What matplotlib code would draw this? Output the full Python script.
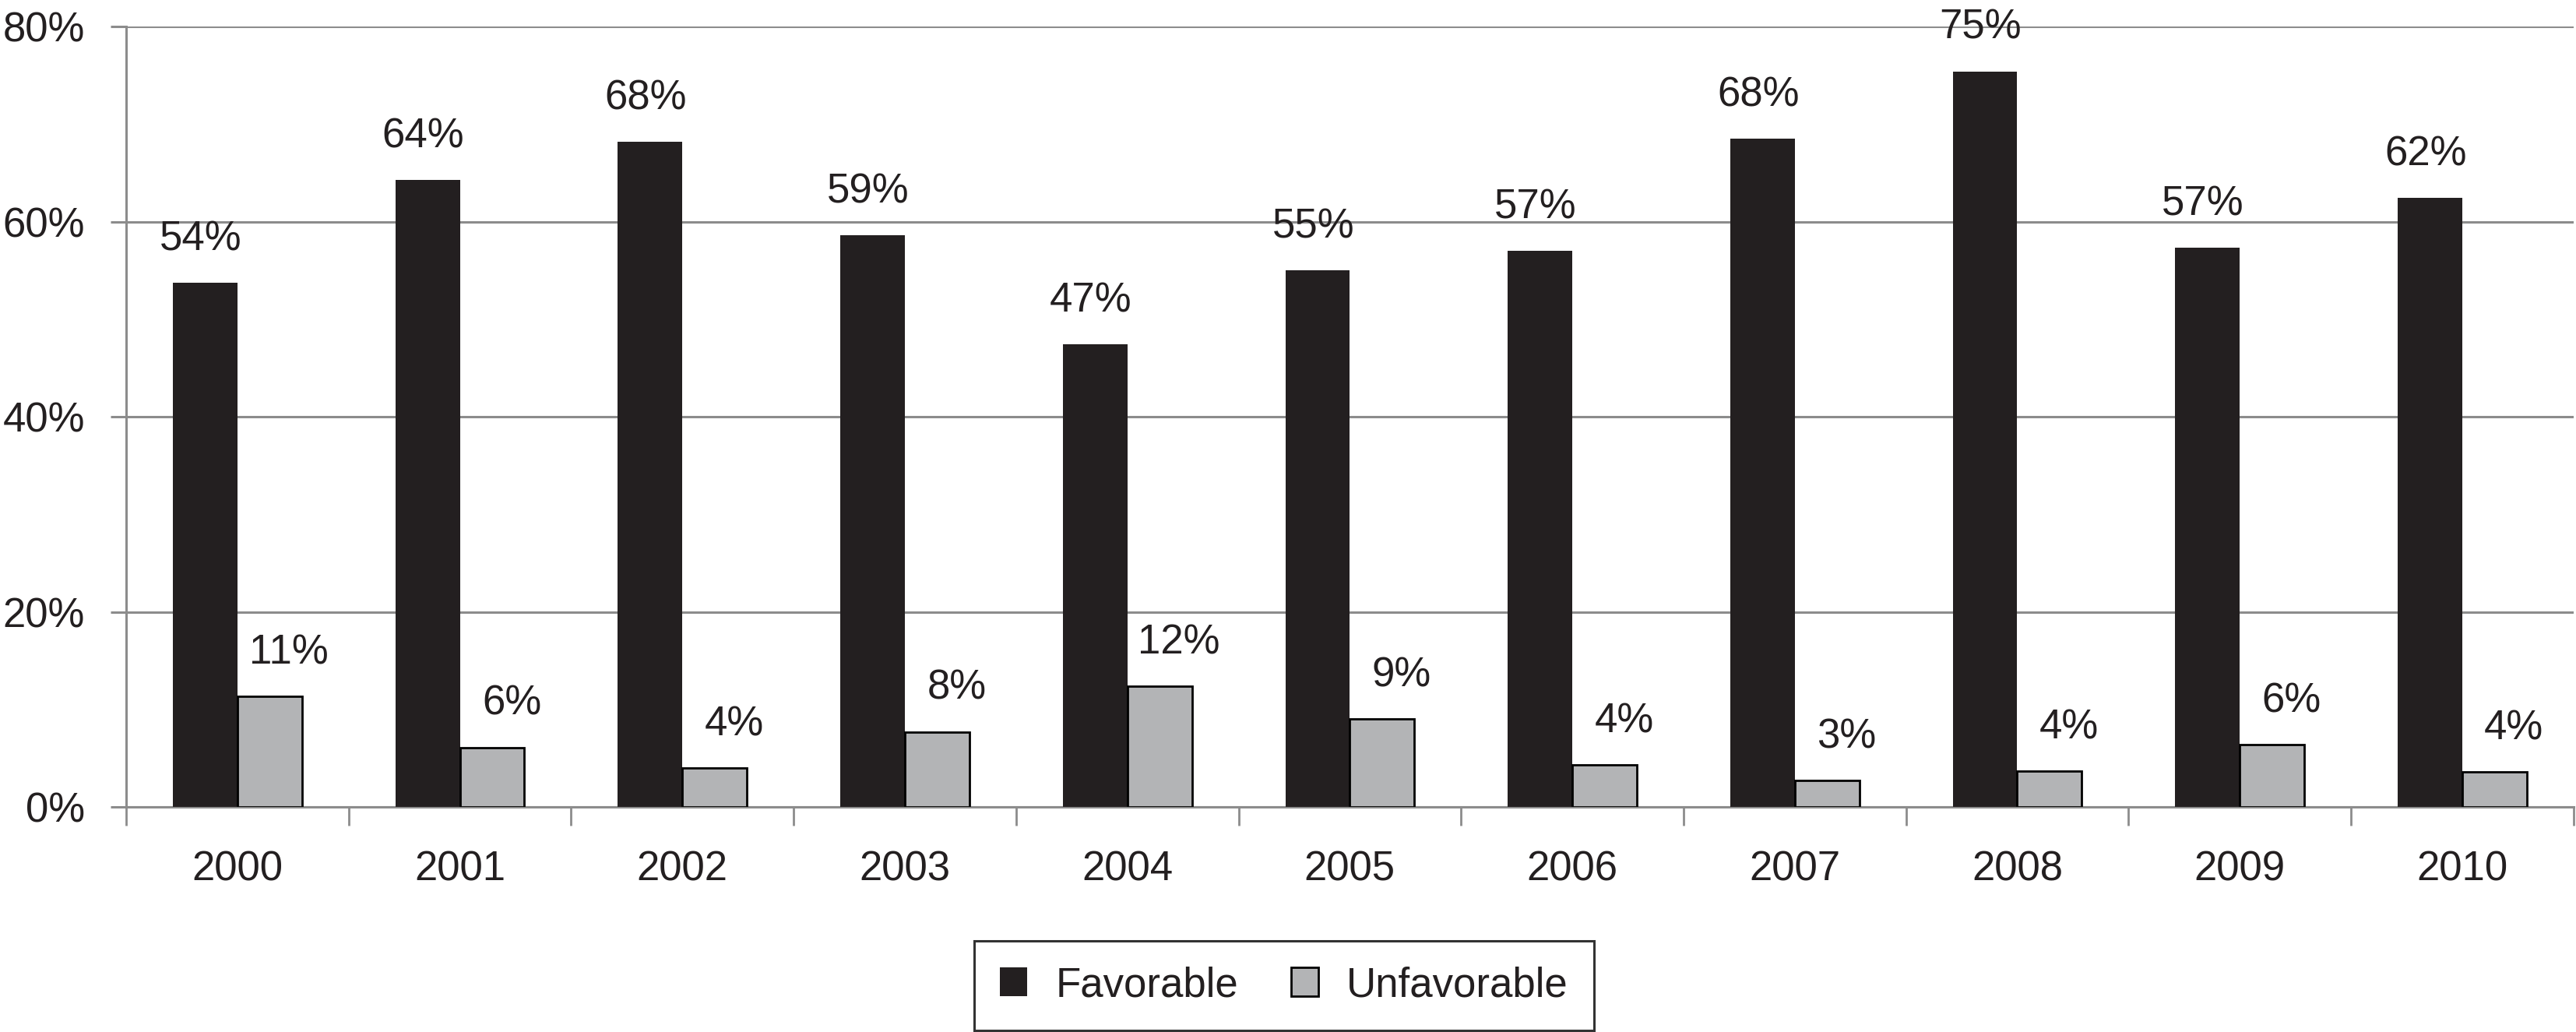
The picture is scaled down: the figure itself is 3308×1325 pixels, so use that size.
import numpy as np
import matplotlib
matplotlib.use('Agg')
import matplotlib.pyplot as plt

plt.rcParams['font.family'] = ['Liberation Sans', 'DejaVu Sans']

years = ['2000', '2001', '2002', '2003', '2004', '2005',
         '2006', '2007', '2008', '2009', '2010']
favorable = [53.7, 64.3, 68.2, 58.6, 47.4, 55.0, 57.0, 68.5, 75.4, 57.3, 62.4]
unfavorable = [11.3, 6.1, 4.0, 7.7, 12.4, 9.0, 4.3, 2.7, 3.7, 6.4, 3.6]
yticks = [0, 20, 40, 60, 80]

fav_color = '#231f20'
unfav_color = '#b3b4b6'
grid_color = '#8c8c8c'
fs = 38

fig = plt.figure(figsize=(33.08, 13.25), dpi=100)
ax = fig.add_axes([0.049, 0.2181, 0.950, 0.7562])

x = np.arange(len(years))
w = 0.29
b1 = ax.bar(x - w / 2, favorable, w, color=fav_color, label='Favorable', zorder=3)
b2 = ax.bar(x + w / 2, unfavorable, w, color=unfav_color, edgecolor='black',
            linewidth=2.0, label='Unfavorable', zorder=3)

# data labels
for rect, v in zip(b1, favorable):
    ax.annotate(f'{v:.0f}%', (rect.get_x() + rect.get_width() / 2, v),
                xytext=(-4, 30), textcoords='offset points',
                ha='center', va='baseline', fontsize=fs, color='#231f20')
for rect, v in zip(b2, unfavorable):
    ax.annotate(f'{v:.0f}%', (rect.get_x() + rect.get_width() / 2, v),
                xytext=(18, 30), textcoords='offset points',
                ha='center', va='baseline', fontsize=fs, color='#231f20')

ax.set_xlim(-0.5, len(years) - 0.5)
ax.set_ylim(0, 80)
ax.set_yticks(yticks)
ax.set_yticklabels([f'{t}%' for t in yticks])
ax.yaxis.grid(True, color=grid_color, linewidth=2.2)
ax.set_axisbelow(True)

# ticks between categories, labels at centres
ax.set_xticks(np.arange(-0.5, len(years), 1.0))
ax.set_xticklabels([])
ax.set_xticks(x, minor=True)
ax.set_xticklabels(years, minor=True)
ax.tick_params(axis='x', which='major', length=17, width=2, color=grid_color)
ax.tick_params(axis='x', which='minor', length=0, pad=40, labelsize=fs, labelcolor='#231f20')
ax.tick_params(axis='y', length=14.4, width=2.2, color=grid_color, pad=24,
               labelsize=fs, labelcolor='#231f20')

for s in ['top', 'right']:
    ax.spines[s].set_visible(False)
for s in ['left', 'bottom']:
    ax.spines[s].set_color(grid_color)
    ax.spines[s].set_linewidth(2.2)

leg = fig.legend(loc='lower center', bbox_to_anchor=(0.4985, 0.0015), ncol=2,
                 fontsize=fs, frameon=True, fancybox=False, shadow=False,
                 handlelength=0.67, handleheight=0.71, handletextpad=0.69,
                 columnspacing=1.27, borderpad=0.62, borderaxespad=0)
leg.get_frame().set_edgecolor('black')
leg.get_frame().set_linewidth(2.2)
for t in leg.get_texts():
    t.set_color('#231f20')

fig.savefig('out.png', dpi=100)
